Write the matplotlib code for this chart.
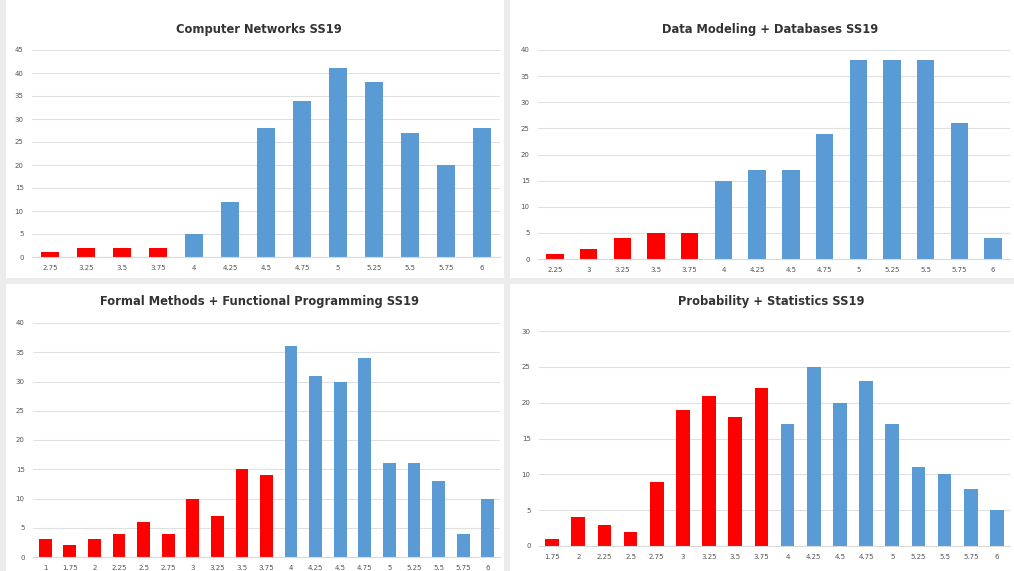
import matplotlib
matplotlib.use("Agg")
import matplotlib.pyplot as plt
from matplotlib.patches import Rectangle

# grades and number of students per grade
cn_grades = ["2.75", "3.25", "3.5", "3.75", "4", "4.25", "4.5", "4.75", "5", "5.25", "5.5", "5.75", "6"]
cn_counts = [1, 2, 2, 2, 5, 12, 28, 34, 41, 38, 27, 20, 28]

db_grades = ["2.25", "3", "3.25", "3.5", "3.75", "4", "4.25", "4.5", "4.75", "5", "5.25", "5.5", "5.75", "6"]
db_counts = [1, 2, 4, 5, 5, 15, 17, 17, 24, 38, 38, 38, 26, 4]

fm_grades = ["1", "1.75", "2", "2.25", "2.5", "2.75", "3", "3.25", "3.5", "3.75",
             "4", "4.25", "4.5", "4.75", "5", "5.25", "5.5", "5.75", "6"]
fm_counts = [3, 2, 3, 4, 6, 4, 10, 7, 15, 14, 36, 31, 30, 34, 16, 16, 13, 4, 10]

ps_grades = ["1.75", "2", "2.25", "2.5", "2.75", "3", "3.25", "3.5", "3.75",
             "4", "4.25", "4.5", "4.75", "5", "5.25", "5.5", "5.75", "6"]
ps_counts = [1, 4, 3, 2, 9, 19, 21, 18, 22, 17, 25, 20, 23, 17, 11, 10, 8, 5]

titles = ["Computer Networks SS19", "Data Modeling + Databases SS19",
          "Formal Methods + Functional Programming SS19", "Probability + Statistics SS19"]

W, H = 1014, 571
fig = plt.figure(figsize=(W / 100, H / 100), dpi=100)
fig.patch.set_facecolor("#ececec")

# white panel backgrounds (pixels: x0, y0_top, x1, y1_bottom)
panels = [(6, 0, 504, 278), (510, 0, 1014, 278), (6, 284, 504, 571), (510, 284, 1014, 571)]
for x0, y0, x1, y1 in panels:
    fig.patches.append(Rectangle((x0 / W, 1 - y1 / H), (x1 - x0) / W, (y1 - y0) / H,
                                 transform=fig.transFigure, facecolor="white",
                                 edgecolor="none", zorder=-5))

# axes boxes in pixels: left, top(ymax), right, bottom(y=0)
boxes = [(32, 50, 500, 257), (538, 50, 1010, 259), (33, 323, 500, 557), (539, 331, 1010, 546)]
ymaxes = [45, 40, 40, 30]
data = [(cn_grades, cn_counts), (db_grades, db_counts), (fm_grades, fm_counts), (ps_grades, ps_counts)]
title_xy = [(259, 30), (770, 30), (260, 302), (771, 302)]

for i, (grades, counts) in enumerate(data):
    l, t, r, b = boxes[i]
    ax = fig.add_axes([l / W, 1 - b / H, (r - l) / W, (b - t) / H])
    ax.set_zorder(2)
    colors = ["#ff0000" if float(g) < 4 else "#5b9bd5" for g in grades]
    xs = range(len(grades))
    ax.bar(xs, counts, width=0.52, color=colors, zorder=2)
    ax.set_xlim(-0.5, len(grades) - 0.5)
    ax.set_ylim(0, ymaxes[i])
    ax.set_yticks(range(0, ymaxes[i] + 1, 5))
    ax.set_xticks(list(xs))
    ax.set_xticklabels(grades)
    ax.tick_params(axis="both", length=0, labelsize=5, colors="#555555", pad=6)
    ax.yaxis.grid(True, color="#e0e0e0", linewidth=0.8, zorder=0)
    ax.set_axisbelow(True)
    for s in ["top", "right", "left"]:
        ax.spines[s].set_visible(False)
    ax.spines["bottom"].set_color("#d9d9d9")
    ax.set_facecolor("white")
    tx, ty = title_xy[i]
    fig.text(tx / W, 1 - ty / H, titles[i], ha="center", va="center",
             fontsize=8.3, fontweight="bold", color="#333333", zorder=3)

fig.savefig("out.png", dpi=100, facecolor=fig.get_facecolor())
